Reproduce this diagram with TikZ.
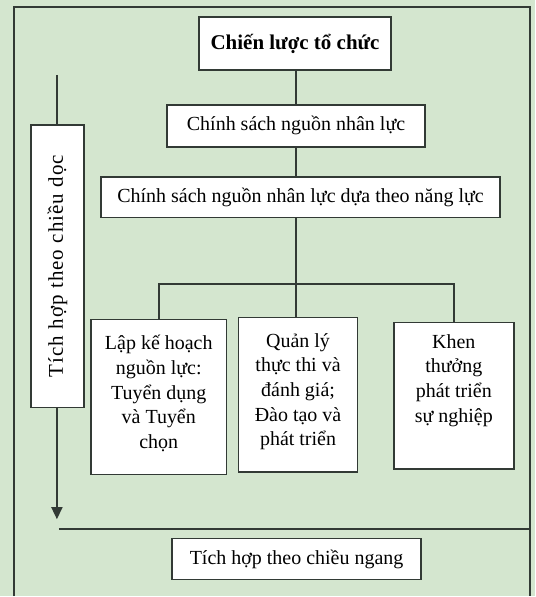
\documentclass[tikz,border=0pt]{standalone}
\usepackage{fontspec}
\setmainfont{Liberation Serif}
\usetikzlibrary{arrows.meta}

\definecolor{scanbg}{RGB}{212,230,207}
\definecolor{inkline}{RGB}{50,58,53}

\begin{document}
\begin{tikzpicture}[x=1pt, y=-1pt,
    box/.style={draw=inkline, line width=1.6pt, fill=white, inner sep=0pt,
      font=\fontsize{20}{24.7}\selectfont},
    leaf/.style={box, anchor=north, align=center, minimum width=#1, inner ysep=16pt},
    link/.style={draw=inkline, line width=1.6pt}]
    % background and open frame
    \fill[scanbg] (0,0) rectangle (536,597);
    \draw[inkline, line width=1.8pt] (14,597) |- (531,7) -- (531,597);

    \node[box, minimum width=192pt, minimum height=53pt, font=\fontsize{21}{25}\selectfont\bfseries] (chienluoc) at (295.5,43.5) {Chiến lược tổ chức};
    \node[box, minimum width=258pt, minimum height=42pt] (csnl) at (296.5,126) {Chính sách nguồn nhân lực};
    \node[box, minimum width=400pt, minimum height=41pt] (csnangluc) at (301,197.5) {Chính sách nguồn nhân lực dựa theo năng lực};

    \node[leaf=136pt] (lapkh) at (159,319) {Lập kế hoạch\\ nguồn lực:\\ Tuyển dụng\\ và Tuyển\\ chọn\rule[-10pt]{0pt}{0pt}};
    \node[leaf=119pt] (quanly) at (298.5,317) {Quản lý\\ thực thi và\\ đánh giá;\\ Đào tạo và\\ phát triển\rule[-10pt]{0pt}{0pt}};
    \node[leaf=120pt, inner ysep=12pt] (khen) at (454.5,322) {Khen\\ thưởng\\ phát triển\\ sự nghiệp\\ \rule[-10pt]{0pt}{0pt}};

    \coordinate (bus) at (296.5,284.5);
    \draw[link] (bus |- chienluoc.south) -- (bus |- csnl.north);
    \draw[link] (bus |- csnl.south) -- (bus |- csnangluc.north);
    \draw[link] (bus |- csnangluc.south) -- (bus);
    \draw[link] (lapkh.north) |- (bus) -| (khen.north);
    \draw[link] (bus) -- (bus |- quanly.north);

    % vertical integration
    \node[box, rotate=90, minimum width=283pt, minimum height=53pt,
      font=\fontsize{21}{25}\selectfont\addfontfeature{LetterSpace=5}] (doc) at (57.5,266.5) {Tích hợp theo chiều dọc};
    \coordinate (doctop) at (57,75);
    \coordinate (docend) at (57,520);
    \draw[link] (doctop) -- (doctop |- doc.east);
    \draw[link, -{Triangle[length=12pt, width=11pt]}] (docend |- doc.west) -- (docend);

    % horizontal integration
    \coordinate (ngangstart) at (59,529.5);
    \coordinate (ngangend) at (531,529.5);
    \draw[link] (ngangstart) -- (ngangend);
    \node[box, minimum width=249pt, minimum height=41pt] (ngang) at (297,560) {Tích hợp theo chiều ngang};
\end{tikzpicture}
\end{document}
